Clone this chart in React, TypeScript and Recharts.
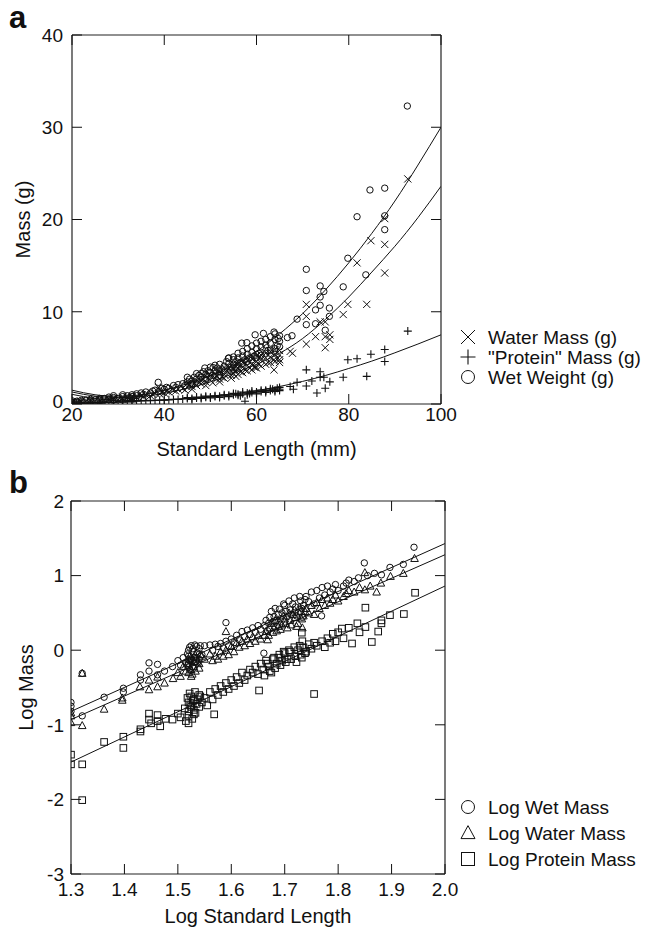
import React from 'react';
import { ComposedChart, Scatter, Line, XAxis, YAxis, Customized } from 'recharts';

const FONT = '"Liberation Sans", Arial, Helvetica, sans-serif';
const INK = '#111';
const TICK = 10;

// ---------- Panel a : Mass (g) vs Standard Length (mm) ----------
const xTicksA = [20, 40, 60, 80, 100];
const yTicksA = [0, 10, 20, 30, 40];

const wetA: [number, number][] = [
  [20,0.2],[20,0.35],[21,0.3],[21,0.2],[22,0.25],[23,0.4],[24,0.3],[25,0.45],[26,0.4],[27,0.6],[28,0.5],[28,0.75],[29,0.7],[30,0.6],[31,0.8],[32,0.9],[32.5,0.7],[33,1.0],[34,1.1],[34,0.9],[35,1.2],[35.5,1.05],[36,1.3],[37,1.2],[37.5,1.4],[38,1.5],[38.7,2.35],[39,1.4],[39.5,1.7],[40,1.6],[40.5,1.8],[41,1.7],[42,2.0],[42.5,1.8],[43,2.1],[44,2.2],[44.5,2.0],[45,2.4],[45.5,2.7],[46,2.5],[46.5,2.9],[47,2.7],[47.5,3.1],[48,3.3],[48,2.9],[48.8,3.9],[49,3.2],[49.5,3.6],[50,3.4],[50.6,3.95],[51,3.6],[51.5,3.9],[52,3.5],[52.5,3.8],[53,4.1],[53.9,4.95],[54,4.4],[54.5,4.0],[55,4.8],[55,4.3],[55.5,4.6],[56,5.0],[56.5,4.5],[56.8,6.6],[57,5.2],[57.5,4.8],[57.9,6.65],[58,5.4],[58.5,5.0],[59,5.6],[59.5,5.2],[59.7,7.5],[60,6.0],[60.5,5.5],[61,6.2],[61.5,7.65],[62,6.4],[62.5,5.8],[63,6.6],[63.8,7.8],[64,7.0],[64.5,6.3],[64.7,7.1],[65,6.8],[66.7,7.2],[67.7,7.4],[68.8,9.2],[70.8,14.6],[70.8,12.3],[70.8,8.6],[72.8,10.2],[72.8,8.7],[73.8,12.8],[73.8,11.6],[73.8,10.7],[74.6,12.2],[74.9,8.0],[75.8,10.4],[75.8,9.5],[78.8,12.7],[79.8,15.8],[81.8,20.3],[83.7,14.0],[84.6,23.2],[87.8,23.4],[87.8,20.4],[87.8,18.9],[92.7,32.3],
  [22,0.4],[24,0.5],[26,0.6],[29,0.9],[31,1.0],[33,0.8],
  [45,2.9],[46,2.2],[47,3.3],[48.5,3.5],[49,2.7],[50,4.0],[50.5,3.1],[51,4.2],[52,4.3],[52,3.1],[53,3.6],[53.5,4.6],[54,5.0],[54.5,3.6],[55,5.1],[55.5,3.9],[56,5.5],[56,4.2],[57,5.7],[57,4.4],[58,6.0],[58,4.6],[59,6.3],[59,4.8],[60,6.6],[60,5.0],[61,6.8],[61,5.3],[62,7.0],[62,5.5],[63,7.3],[63,5.8],[64,7.6],[64,6.0],[65,7.4],[65,6.2],
];

const waterA: [number, number][] = [
  [20,0.15],[20,0.25],[21,0.2],[21,0.1],[22,0.2],[23,0.3],[24,0.25],[25,0.35],[26,0.3],[27,0.45],[28,0.4],[28,0.55],[29,0.5],[30,0.45],[31,0.6],[32,0.7],[32.5,0.55],[33,0.75],[34,0.85],[34,0.7],[35,0.9],[35.5,0.8],[36,1.0],[37,0.9],[37.5,1.05],[38,1.15],[38.7,1.8],[39,1.1],[39.5,1.3],[40,1.2],[40.5,1.4],[41,1.3],[42,1.5],[42.5,1.4],[43,1.6],[44,1.7],[44.5,1.5],[45,1.85],[45.5,2.1],[46,1.9],[46.5,2.2],[47,2.0],[47.5,2.4],[48,2.5],[48,2.2],[48.8,3.0],[49,2.4],[49.5,2.8],[50,2.6],[50.6,3.0],[51,2.8],[51.5,3.0],[52,2.7],[52.5,2.9],[53,3.2],[53.9,3.8],[54,3.4],[54.5,3.1],[55,3.7],[55,3.3],[55.5,3.6],[56,3.9],[56.5,3.5],[57,4.0],[57.5,3.7],[58,4.2],[58.5,3.9],[59,4.3],[59.5,4.0],[59.8,4.0],[60,4.6],[60.5,4.3],[60.8,5.1],[61,4.8],[62,5.0],[62.5,4.5],[63,5.1],[63.8,4.8],[63.8,3.7],[64,5.4],[64.5,4.9],[65,5.3],[65,4.5],[67.3,5.7],[67.8,5.5],[70.8,6.5],[70.8,9.5],[70.8,10.8],[72.8,7.3],[73.8,8.9],[74.9,8.9],[74.9,7.3],[74.9,6.1],[75.9,7.5],[75.9,7.0],[78.8,9.7],[79.8,10.8],[83.9,10.8],[81.8,15.3],[84.8,17.7],[87.8,17.3],[87.8,14.2],[87.8,20.1],[92.8,24.4],
  [22,0.3],[24,0.4],[26,0.45],[29,0.65],[31,0.75],[33,0.6],
  [45,2.2],[46,1.6],[47,2.5],[48.5,2.7],[49,2.0],[50,3.1],[50.5,2.3],[51,3.3],[52,3.4],[52,2.4],[53,2.8],[53.5,3.6],[54,3.9],[54.5,2.8],[55,4.0],[55.5,3.0],[56,4.3],[56,3.2],[57,4.5],[57,3.4],[58,4.7],[58,3.6],[59,4.9],[59,3.7],[60,5.2],[60,3.9],[61,5.3],[61,4.1],[62,5.5],[62,4.3],[63,5.7],[63,4.5],[64,5.9],[64,4.6],[65,5.8],[65,4.8],
];

const proteinA: [number, number][] = [
  [20,0.1],[20.5,0.05],[21,0.1],[22,0.1],[23,0.12],[24,0.1],[25,0.15],[26,0.15],[27,0.18],[28,0.2],[29,0.2],[30,0.22],[31,0.25],[32,0.25],[33,0.28],[34,0.3],[35,0.32],[36,0.35],[37,0.35],[38,0.38],[39,0.4],[40,0.42],[41,0.45],[42,0.5],[43,0.5],[44,0.55],[45,0.6],[46,0.6],[47,0.65],[48,0.7],[49,0.72],[50,0.75],[51,0.8],[52,0.85],[53,0.9],[54,0.95],[55,1.0],[55.5,1.1],[56,1.05],[56.5,0.9],[57,1.1],[57.5,0.3],[58,1.2],[58.5,1.15],[59,1.25],[60,1.3],[60,1.2],[61,1.35],[62,1.4],[62,1.5],[63,1.45],[63.5,1.6],[64,1.5],[64.5,1.7],[65,1.6],[65,1.8],[67.3,1.9],[68,1.6],[68.8,2.35],[70.8,3.7],[70.8,1.95],[72,2.5],[73.1,1.2],[73.8,3.5],[73.8,2.9],[74.6,2.9],[74.9,1.7],[75.9,2.4],[78.8,2.9],[79.8,4.8],[81.8,4.9],[83.9,3.0],[84.8,5.4],[87.8,5.9],[87.8,4.6],[92.8,7.9],
  [22,0.05],[24,0.15],[26,0.1],[29,0.15],[31,0.2],[33,0.22],
  [45,0.7],[46,0.5],[47,0.75],[48,0.6],[49,0.85],[50,0.65],[51,0.9],[52,0.7],[53,1.0],[54,0.8],[55,1.15],[56,0.95],[57,1.3],[58,1.0],[59,1.4],[60,1.1],[61,1.5],[62,1.25],[63,1.65],[64,1.35],[65,1.45],
];

// fitted curves
const wetFitA: [number, number][] = [
  [20,1.5],[25,1.0],[30,0.85],[35,1.0],[40,1.5],[45,2.2],[50,3.1],[55,4.2],[60,5.7],[65,7.6],[70,9.8],[75,12.4],[80,15.3],[85,18.5],[90,22.0],[95,25.9],[100,30.0],
];
const waterFitA: [number, number][] = [
  [20,1.3],[25,0.85],[30,0.7],[35,0.8],[40,1.15],[45,1.7],[50,2.4],[55,3.3],[60,4.3],[65,5.5],[70,7.1],[75,9.2],[80,11.6],[85,14.3],[90,17.1],[95,20.2],[100,23.6],
];
const proteinFitA: [number, number][] = [
  [20,1.05],[25,0.6],[30,0.4],[35,0.38],[40,0.45],[45,0.6],[50,0.85],[55,1.1],[60,1.45],[65,1.9],[70,2.45],[75,3.1],[80,3.85],[85,4.65],[90,5.55],[95,6.5],[100,7.5],
];

const legendA = ['Water Mass (g)', '"Protein" Mass (g)', 'Wet Weight (g)'];

// ---------- Panel b : Log Mass vs Log Standard Length ----------
const xTicksB = [1.3, 1.4, 1.5, 1.6, 1.7, 1.8, 1.9, 2.0];
const yTicksB = [-3, -2, -1, 0, 1, 2];

const wetB: [number, number][] = [
  [1.30,-0.70],[1.30,-0.75],[1.30,-0.82],[1.321,-0.31],[1.321,-0.88],[1.362,-0.63],[1.398,-0.51],[1.398,-0.56],[1.43,-0.33],[1.43,-0.40],[1.446,-0.17],[1.446,-0.28],[1.462,-0.19],[1.462,-0.33],[1.475,-0.28],[1.49,-0.22],[1.50,-0.14],[1.505,-0.20],[1.51,-0.10],[1.515,-0.16],[1.52,0.0],[1.52,-0.08],[1.525,0.06],[1.525,-0.12],[1.53,-0.02],[1.535,0.05],[1.54,0.02],[1.545,-0.06],[1.55,0.06],[1.56,0.07],[1.565,0.0],[1.57,0.08],[1.575,0.05],[1.58,0.09],[1.585,0.03],[1.59,0.37],[1.59,0.12],[1.595,0.06],[1.60,0.15],[1.605,0.10],[1.61,0.20],[1.615,0.14],[1.62,0.25],[1.625,0.18],[1.63,0.27],[1.635,0.21],[1.64,0.30],[1.645,0.24],[1.65,0.33],[1.655,0.28],[1.661,-0.04],[1.665,0.40],[1.67,0.36],[1.675,0.52],[1.68,0.45],[1.685,0.40],[1.69,0.55],[1.695,0.50],[1.70,0.60],[1.705,0.45],[1.71,0.54],[1.715,0.62],[1.72,0.58],[1.725,0.50],[1.73,0.66],[1.735,0.60],[1.74,0.72],[1.745,0.65],[1.75,0.78],[1.755,0.62],[1.76,0.80],[1.765,0.70],[1.769,0.46],[1.77,0.84],[1.775,0.74],[1.78,0.86],[1.785,0.78],[1.79,0.82],[1.795,0.88],[1.80,0.80],[1.81,0.86],[1.815,0.90],[1.82,0.94],[1.83,0.92],[1.838,0.97],[1.849,1.17],[1.855,1.00],[1.868,1.03],[1.881,1.01],[1.897,1.11],[1.922,1.15],[1.942,1.38],
  [1.518,-0.05],[1.52,-0.18],[1.522,0.04],[1.523,-0.14],[1.527,-0.22],[1.528,0.02],[1.53,-0.10],[1.532,0.07],[1.533,-0.16],[1.537,-0.04],[1.54,-0.12],[1.542,0.06],
  [1.662,0.33],[1.668,0.26],[1.672,0.44],[1.678,0.38],[1.682,0.56],[1.688,0.48],[1.692,0.42],[1.698,0.62],[1.702,0.52],[1.708,0.66],[1.712,0.48],[1.718,0.70],[1.722,0.46],[1.728,0.72],[1.732,0.56],[1.733,0.44],[1.738,0.68],
];

const waterB: [number, number][] = [
  [1.30,-0.84],[1.30,-0.88],[1.30,-0.97],[1.321,-0.31],[1.321,-1.01],[1.362,-0.79],[1.396,-0.64],[1.396,-0.67],[1.429,-0.49],[1.446,-0.53],[1.446,-0.40],[1.462,-0.49],[1.462,-0.36],[1.475,-0.44],[1.491,-0.38],[1.50,-0.30],[1.505,-0.35],[1.51,-0.22],[1.515,-0.28],[1.52,-0.12],[1.52,-0.20],[1.525,-0.26],[1.525,-0.35],[1.53,-0.15],[1.535,-0.10],[1.54,-0.18],[1.545,-0.08],[1.55,-0.12],[1.56,-0.05],[1.565,-0.14],[1.57,-0.08],[1.575,-0.12],[1.58,-0.02],[1.585,-0.08],[1.59,0.25],[1.59,0.0],[1.595,-0.06],[1.60,0.05],[1.605,-0.02],[1.61,0.10],[1.615,0.04],[1.62,0.12],[1.625,0.06],[1.63,0.15],[1.635,0.09],[1.64,0.18],[1.645,0.12],[1.65,0.20],[1.655,0.15],[1.665,0.25],[1.67,0.20],[1.675,0.36],[1.68,0.30],[1.685,0.26],[1.69,0.38],[1.695,0.34],[1.70,0.42],[1.705,0.30],[1.71,0.40],[1.715,0.48],[1.72,0.44],[1.725,0.36],[1.73,0.52],[1.735,0.46],[1.74,0.56],[1.745,0.50],[1.75,0.60],[1.755,0.48],[1.76,0.64],[1.765,0.56],[1.77,0.68],[1.775,0.60],[1.78,0.70],[1.785,0.63],[1.79,0.68],[1.795,0.74],[1.80,0.66],[1.81,0.72],[1.815,0.76],[1.82,0.80],[1.83,0.78],[1.84,0.84],[1.85,1.04],[1.85,0.81],[1.86,0.86],[1.872,0.78],[1.88,0.90],[1.898,0.99],[1.922,1.03],[1.943,1.23],
  [1.518,-0.18],[1.52,-0.30],[1.522,-0.08],[1.523,-0.24],[1.527,-0.32],[1.528,-0.12],[1.53,-0.22],[1.532,-0.06],[1.533,-0.28],[1.537,-0.16],[1.54,-0.24],[1.542,-0.06],
  [1.662,0.20],[1.668,0.14],[1.672,0.30],[1.678,0.24],[1.682,0.40],[1.688,0.32],[1.692,0.28],[1.698,0.46],[1.702,0.36],[1.708,0.50],[1.712,0.34],[1.718,0.54],[1.722,0.32],[1.728,0.58],[1.732,0.42],[1.733,0.30],[1.738,0.52],
];

const proteinB: [number, number][] = [
  [1.30,-1.40],[1.30,-1.53],[1.321,-1.53],[1.321,-2.01],[1.362,-1.23],[1.398,-1.16],[1.398,-1.31],[1.43,-1.06],[1.43,-1.09],[1.446,-0.85],[1.446,-0.93],[1.45,-0.98],[1.462,-0.87],[1.462,-0.95],[1.467,-1.02],[1.477,-0.92],[1.49,-0.93],[1.50,-0.85],[1.505,-0.90],[1.513,-0.78],[1.515,-0.95],[1.52,-0.70],[1.52,-0.82],[1.52,-0.98],[1.525,-0.62],[1.525,-0.76],[1.53,-0.66],[1.53,-0.86],[1.535,-0.72],[1.54,-0.60],[1.545,-0.70],[1.55,-0.64],[1.555,-0.74],[1.56,-0.56],[1.565,-0.66],[1.568,-0.86],[1.57,-0.52],[1.575,-0.60],[1.58,-0.48],[1.585,-0.56],[1.59,-0.44],[1.595,-0.52],[1.60,-0.40],[1.605,-0.48],[1.61,-0.36],[1.615,-0.44],[1.62,-0.30],[1.625,-0.40],[1.63,-0.34],[1.635,-0.26],[1.64,-0.30],[1.645,-0.22],[1.65,-0.32],[1.652,-0.54],[1.655,-0.18],[1.66,-0.26],[1.665,-0.14],[1.67,-0.22],[1.675,-0.30],[1.68,-0.10],[1.685,-0.18],[1.69,-0.06],[1.695,-0.14],[1.70,-0.04],[1.705,-0.12],[1.71,-0.02],[1.72,-0.08],[1.725,0.0],[1.73,-0.06],[1.732,0.235],[1.735,0.04],[1.74,-0.02],[1.745,0.08],[1.75,0.02],[1.755,0.10],[1.755,-0.587],[1.76,0.06],[1.77,0.12],[1.775,0.04],[1.78,0.16],[1.785,0.10],[1.79,0.22],[1.795,0.12],[1.80,0.24],[1.807,0.29],[1.81,0.16],[1.82,0.30],[1.826,0.09],[1.836,0.36],[1.84,0.24],[1.851,0.57],[1.851,0.31],[1.863,0.11],[1.875,0.25],[1.881,0.40],[1.881,0.36],[1.897,0.47],[1.923,0.485],[1.944,0.77],
  [1.518,-0.64],[1.52,-0.88],[1.522,-0.58],[1.523,-0.74],[1.527,-0.92],[1.528,-0.68],[1.53,-0.80],[1.532,-0.56],[1.533,-0.84],[1.537,-0.66],[1.54,-0.76],[1.542,-0.62],
  [1.662,-0.34],[1.668,-0.18],[1.672,-0.28],[1.678,-0.12],[1.682,-0.24],[1.688,-0.10],[1.692,-0.20],[1.698,-0.02],[1.702,-0.16],[1.708,0.0],[1.712,-0.12],[1.718,0.04],[1.722,-0.16],[1.728,0.06],[1.732,-0.10],[1.733,0.12],[1.738,-0.04],
];

const wetFitB: [number, number][] = [[1.3,-0.82],[2.0,1.43]];
const waterFitB: [number, number][] = [[1.3,-0.93],[2.0,1.28]];
const proteinFitB: [number, number][] = [[1.3,-1.5],[2.0,0.86]];

const legendB = ['Log Wet Mass', 'Log Water Mass', 'Log Protein Mass'];

// ---------- helpers ----------
const pts = (a: [number, number][]) => a.map(([x, y]) => ({ x, y }));

const XMark = (p: any) => {
  const { cx, cy } = p; const s = p.s ?? 3.6;
  return <path d={`M${cx - s},${cy - s}L${cx + s},${cy + s}M${cx - s},${cy + s}L${cx + s},${cy - s}`} stroke={INK} strokeWidth={1} fill="none" />;
};
const PlusMark = (p: any) => {
  const { cx, cy } = p; const s = p.s ?? 4;
  return <path d={`M${cx - s},${cy}L${cx + s},${cy}M${cx},${cy - s}L${cx},${cy + s}`} stroke={INK} strokeWidth={1.1} fill="none" />;
};
const CircleMark = (p: any) => {
  const { cx, cy } = p; const r = p.r ?? 3.2;
  return <circle cx={cx} cy={cy} r={r} stroke={INK} strokeWidth={1} fill="none" />;
};
const TriMark = (p: any) => {
  const { cx, cy } = p; const s = p.s ?? 3.8;
  return <path d={`M${cx},${cy - s * 1.05}L${cx - s},${cy + s * 0.8}L${cx + s},${cy + s * 0.8}Z`} stroke={INK} strokeWidth={1} fill="none" />;
};
const SqMark = (p: any) => {
  const { cx, cy } = p; const s = p.s ?? 3.3;
  return <rect x={cx - s} y={cy - s} width={2 * s} height={2 * s} stroke={INK} strokeWidth={1} fill="none" />;
};

const BottomTick = (p: any) => {
  const { x, y, payload, fmt, gap, fs } = p;
  return (
    <g>
      <line x1={x} y1={y} x2={x} y2={y - TICK} stroke={INK} strokeWidth={1} />
      <text x={x} y={y + gap} dy="0.71em" textAnchor="middle" fontSize={fs} fontFamily={FONT} fill={INK}>{fmt(payload.value)}</text>
    </g>
  );
};
const TopTick = (p: any) => {
  const { x, y } = p;
  return <line x1={x} y1={y} x2={x} y2={y + TICK} stroke={INK} strokeWidth={1} />;
};
const LeftTick = (p: any) => {
  const { x, y, payload, gap, fs, lowDy } = p;
  const isLow = lowDy !== undefined && payload.index === 0;
  return (
    <g>
      <line x1={x} y1={y} x2={x + TICK} y2={y} stroke={INK} strokeWidth={1} />
      <text x={x - gap} y={y} dy={isLow ? lowDy : '0.36em'} textAnchor="end" fontSize={fs} fontFamily={FONT} fill={INK}>{String(payload.value)}</text>
    </g>
  );
};
const RightTick = (p: any) => {
  const { x, y } = p;
  return <line x1={x} y1={y} x2={x - TICK} y2={y} stroke={INK} strokeWidth={1} />;
};

const axisLine = { stroke: '#222', strokeWidth: 1.2 };

const AnnotA = () => (
  <g fontFamily={FONT} fill={INK}>
    <text x={9} y={28} fontSize={31} fontWeight="bold">a</text>
    <text x={256.5} y={456} fontSize={20} textAnchor="middle">Standard Length (mm)</text>
    <text transform="translate(30,219.5) rotate(-90)" fontSize={20} textAnchor="middle">Mass (g)</text>
    <XMark cx={468} cy={337} s={7} />
    <PlusMark cx={468} cy={357} s={7.5} />
    <CircleMark cx={468} cy={377} r={6.5} />
    {legendA.map((t, i) => (
      <text key={t} x={488} y={337 + i * 20} dy="0.36em" fontSize={19}>{t}</text>
    ))}
  </g>
);

const B_TOP = 455;
const AnnotB = () => (
  <g fontFamily={FONT} fill={INK}>
    <text x={9} y={493 - B_TOP} fontSize={31} fontWeight="bold">b</text>
    <text x={258} y={923 - B_TOP} fontSize={20} textAnchor="middle">Log Standard Length</text>
    <text transform={`translate(33,${687.5 - B_TOP}) rotate(-90)`} fontSize={20} textAnchor="middle">Log Mass</text>
    <CircleMark cx={468} cy={807 - B_TOP} r={6.5} />
    <TriMark cx={468} cy={833 - B_TOP} s={7} />
    <SqMark cx={468} cy={859 - B_TOP} s={6.5} />
    {legendB.map((t, i) => (
      <text key={t} x={488} y={807 - B_TOP + i * 26} dy="0.36em" fontSize={19}>{t}</text>
    ))}
  </g>
);

const fmtA = (v: number) => String(v);
const fmtB = (v: number) => v.toFixed(1);

export default function App() {
  return (
    <div style={{ position: 'absolute', left: 0, top: 0, width: 645, height: 929, background: '#fff' }}>
      <div style={{ position: 'absolute', left: 0, top: 0 }}>
        <ComposedChart width={645} height={470} margin={{ top: 34, right: 203, bottom: 65, left: 71 }}>
          <XAxis type="number" dataKey="x" domain={[20, 100]} ticks={xTicksA} interval={0} height={1}
            tickSize={0} tickMargin={0} tickLine={false} axisLine={axisLine} allowDataOverflow
            tick={(p: any) => <BottomTick {...p} fmt={fmtA} gap={4} fs={19} />} />
          <XAxis xAxisId="top" orientation="top" type="number" dataKey="x" domain={[20, 100]} ticks={xTicksA} interval={0}
            height={1} tickSize={0} tickMargin={0} tickLine={false} axisLine={axisLine} allowDataOverflow tick={TopTick} />
          <YAxis type="number" dataKey="y" domain={[0, 40]} ticks={yTicksA} interval={0} width={1}
            tickSize={0} tickMargin={0} tickLine={false} axisLine={axisLine} allowDataOverflow
            tick={(p: any) => <LeftTick {...p} gap={9} fs={19} lowDy="0.2em" />} />
          <YAxis yAxisId="right" orientation="right" type="number" dataKey="y" domain={[0, 40]} ticks={yTicksA} interval={0}
            width={1} tickSize={0} tickMargin={0} tickLine={false} axisLine={axisLine} allowDataOverflow tick={RightTick} />
          <Scatter name="Wet Weight (g)" data={pts(wetA)} shape={(p: any) => <CircleMark {...p} />} isAnimationActive={false} />
          <Scatter name="Water Mass (g)" data={pts(waterA)} shape={(p: any) => <XMark {...p} />} isAnimationActive={false} />
          <Scatter name='"Protein" Mass (g)' data={pts(proteinA)} shape={(p: any) => <PlusMark {...p} />} isAnimationActive={false} />
          <Line data={pts(wetFitA)} dataKey="y" type="natural" stroke={INK} strokeWidth={1} dot={false} activeDot={false} isAnimationActive={false} />
          <Line data={pts(waterFitA)} dataKey="y" type="natural" stroke={INK} strokeWidth={1} dot={false} activeDot={false} isAnimationActive={false} />
          <Line data={pts(proteinFitA)} dataKey="y" type="natural" stroke={INK} strokeWidth={1} dot={false} activeDot={false} isAnimationActive={false} />
          <Customized component={AnnotA} />
        </ComposedChart>
      </div>
      <div style={{ position: 'absolute', left: 0, top: B_TOP }}>
        <ComposedChart width={645} height={474} margin={{ top: 45, right: 199, bottom: 54, left: 70 }}>
          <XAxis type="number" dataKey="x" domain={[1.3, 2.0]} ticks={xTicksB} interval={0} height={1}
            tickSize={0} tickMargin={0} tickLine={false} axisLine={axisLine} allowDataOverflow
            tick={(p: any) => <BottomTick {...p} fmt={fmtB} gap={9} fs={19} />} />
          <XAxis xAxisId="top" orientation="top" type="number" dataKey="x" domain={[1.3, 2.0]} ticks={xTicksB} interval={0}
            height={1} tickSize={0} tickMargin={0} tickLine={false} axisLine={axisLine} allowDataOverflow tick={TopTick} />
          <YAxis type="number" dataKey="y" domain={[-3, 2]} ticks={yTicksB} interval={0} width={1}
            tickSize={0} tickMargin={0} tickLine={false} axisLine={axisLine} allowDataOverflow
            tick={(p: any) => <LeftTick {...p} gap={7} fs={19} />} />
          <YAxis yAxisId="right" orientation="right" type="number" dataKey="y" domain={[-3, 2]} ticks={yTicksB} interval={0}
            width={1} tickSize={0} tickMargin={0} tickLine={false} axisLine={axisLine} allowDataOverflow tick={RightTick} />
          <Scatter name="Log Protein Mass" data={pts(proteinB)} shape={(p: any) => <SqMark {...p} />} isAnimationActive={false} />
          <Scatter name="Log Water Mass" data={pts(waterB)} shape={(p: any) => <TriMark {...p} />} isAnimationActive={false} />
          <Scatter name="Log Wet Mass" data={pts(wetB)} shape={(p: any) => <CircleMark {...p} />} isAnimationActive={false} />
          <Line data={pts(wetFitB)} dataKey="y" type="linear" stroke={INK} strokeWidth={1} dot={false} activeDot={false} isAnimationActive={false} />
          <Line data={pts(waterFitB)} dataKey="y" type="linear" stroke={INK} strokeWidth={1} dot={false} activeDot={false} isAnimationActive={false} />
          <Line data={pts(proteinFitB)} dataKey="y" type="linear" stroke={INK} strokeWidth={1} dot={false} activeDot={false} isAnimationActive={false} />
          <Customized component={AnnotB} />
        </ComposedChart>
      </div>
    </div>
  );
}
